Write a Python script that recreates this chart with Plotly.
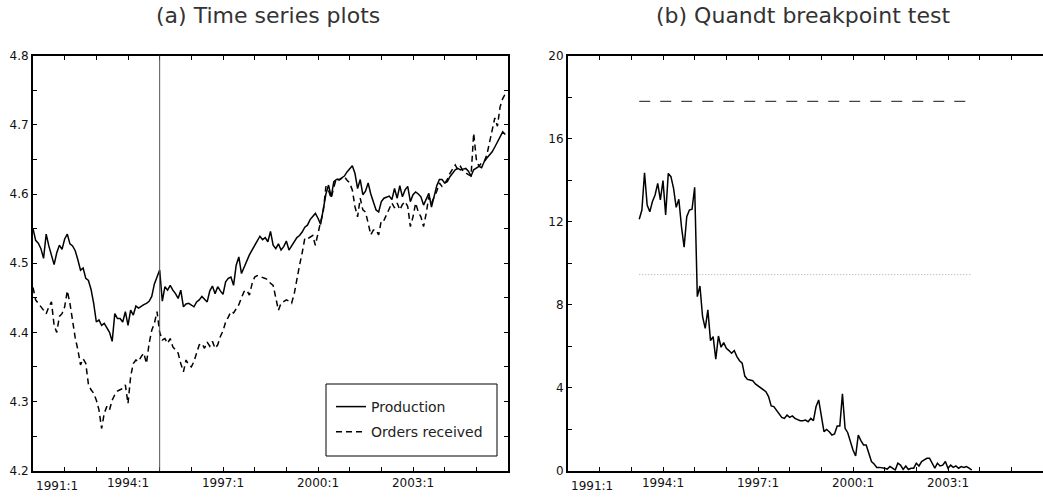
import numpy as np
import plotly.graph_objects as go

# ---------------- data (monthly, 1991:1 - 2005:12) ----------------
start_year = 1991
production = [
    4.550, 4.533, 4.529, 4.521, 4.507, 4.542, 4.525, 4.512, 4.498, 4.515, 4.526, 4.520,  # 1991
    4.535, 4.542, 4.528, 4.525, 4.518, 4.505, 4.490, 4.493, 4.478, 4.475, 4.462, 4.442,  # 1992
    4.415, 4.418, 4.410, 4.413, 4.406, 4.400, 4.387, 4.427, 4.420, 4.420, 4.415, 4.430,  # 1993
    4.410, 4.432, 4.425, 4.438, 4.435, 4.438, 4.440, 4.442, 4.445, 4.452, 4.470, 4.480,  # 1994
    4.490, 4.445, 4.466, 4.461, 4.468, 4.461, 4.456, 4.449, 4.461, 4.437, 4.441, 4.442,  # 1995
    4.440, 4.437, 4.444, 4.447, 4.452, 4.448, 4.444, 4.460, 4.467, 4.456, 4.466, 4.460,  # 1996
    4.455, 4.473, 4.478, 4.480, 4.468, 4.497, 4.509, 4.485, 4.495, 4.505, 4.512, 4.519,  # 1997
    4.526, 4.531, 4.539, 4.534, 4.537, 4.531, 4.546, 4.526, 4.521, 4.528, 4.519, 4.524,  # 1998
    4.532, 4.519, 4.525, 4.529, 4.537, 4.540, 4.545, 4.552, 4.555, 4.563, 4.568, 4.572,  # 1999
    4.565, 4.556, 4.578, 4.600, 4.613, 4.596, 4.618, 4.621, 4.621, 4.623, 4.626, 4.632,  # 2000
    4.636, 4.641, 4.630, 4.608, 4.621, 4.599, 4.604, 4.616, 4.600, 4.590, 4.577, 4.574,  # 2001
    4.589, 4.594, 4.596, 4.597, 4.592, 4.608, 4.594, 4.612, 4.596, 4.606, 4.611, 4.589,  # 2002
    4.599, 4.603, 4.600, 4.596, 4.584, 4.592, 4.601, 4.581, 4.599, 4.612, 4.621, 4.621,  # 2003
    4.616, 4.618, 4.625, 4.630, 4.635, 4.637, 4.635, 4.636, 4.637, 4.633, 4.626, 4.635,  # 2004
    4.638, 4.640, 4.638, 4.647, 4.652, 4.656, 4.661, 4.668, 4.676, 4.684, 4.690, 4.686,  # 2005
]
orders = [
    4.465, 4.447, 4.442, 4.437, 4.432, 4.427, 4.437, 4.444, 4.410, 4.400, 4.423, 4.427,  # 1991
    4.437, 4.460, 4.442, 4.418, 4.392, 4.375, 4.353, 4.362, 4.355, 4.325, 4.317, 4.312,  # 1992
    4.302, 4.288, 4.261, 4.283, 4.293, 4.288, 4.302, 4.310, 4.315, 4.317, 4.319, 4.324,  # 1993
    4.297, 4.336, 4.355, 4.360, 4.358, 4.365, 4.370, 4.355, 4.384, 4.403, 4.413, 4.430,  # 1994
    4.400, 4.389, 4.391, 4.384, 4.391, 4.379, 4.374, 4.370, 4.355, 4.343, 4.360, 4.353,  # 1995
    4.350, 4.358, 4.370, 4.382, 4.384, 4.377, 4.386, 4.380, 4.387, 4.377, 4.382, 4.394,  # 1996
    4.402, 4.415, 4.422, 4.430, 4.428, 4.435, 4.440, 4.450, 4.459, 4.461, 4.454, 4.470,  # 1997
    4.480, 4.482, 4.481, 4.480, 4.478, 4.476, 4.471, 4.468, 4.452, 4.432, 4.442, 4.445,  # 1998
    4.447, 4.445, 4.442, 4.456, 4.478, 4.497, 4.515, 4.536, 4.535, 4.537, 4.540, 4.526,  # 1999
    4.545, 4.560, 4.575, 4.611, 4.605, 4.594, 4.610, 4.623, 4.620, 4.622, 4.625, 4.620,  # 2000
    4.616, 4.606, 4.582, 4.567, 4.594, 4.577, 4.574, 4.558, 4.541, 4.548, 4.548, 4.541,  # 2001
    4.562, 4.562, 4.570, 4.577, 4.587, 4.580, 4.587, 4.577, 4.585, 4.589, 4.582, 4.553,  # 2002
    4.567, 4.587, 4.574, 4.567, 4.553, 4.572, 4.596, 4.587, 4.595, 4.604, 4.616, 4.611,  # 2003
    4.615, 4.621, 4.630, 4.636, 4.642, 4.635, 4.640, 4.633, 4.630, 4.628, 4.626, 4.688,  # 2004
    4.650, 4.640, 4.645, 4.647, 4.657, 4.675, 4.693, 4.710, 4.698, 4.726, 4.738, 4.745,  # 2005
]
# Quandt sup-Wald statistic, evaluated from 1993:4 (month index 27) to 2003:10
quandt_start_month = 27
quandt = [
    12.12, 12.56, 14.36, 12.80, 12.48, 12.97, 13.29, 13.85, 13.05, 13.98,
    12.32, 14.33, 14.17, 13.61, 12.69, 13.08, 11.76, 10.77, 12.24, 12.56,
    12.60, 13.66, 8.39, 8.90, 7.42, 6.86, 7.75, 6.27, 6.46, 5.37,
    6.49, 5.95, 6.17, 5.90, 5.79, 5.66, 5.79, 5.50, 5.30, 5.18,
    4.56, 4.40, 4.37, 4.34, 4.18, 4.08, 4.02, 3.89, 3.81, 3.57,
    3.12, 3.09, 2.93, 2.73, 2.57, 2.52, 2.68, 2.57, 2.64, 2.52,
    2.48, 2.41, 2.41, 2.44, 2.36, 2.52, 2.41, 3.09, 3.41, 2.60,
    1.88, 1.99, 1.88, 1.72, 1.77, 2.15, 2.15, 3.70, 2.04, 1.83,
    1.40, 1.00, 0.71, 1.72, 1.45, 1.24, 1.24, 0.84, 0.44, 0.32,
    0.16, 0.16, 0.15, 0.12, 0.08, 0.20, 0.12, 0.03, 0.36, 0.27,
    0.06, 0.23, 0.06, 0.12, 0.12, 0.36, 0.23, 0.44, 0.52, 0.60,
    0.60, 0.36, 0.12, 0.36, 0.23, 0.27, 0.44, 0.12, 0.27, 0.16,
    0.23, 0.12, 0.20, 0.16, 0.20, 0.12, 0.03,
]
crit_upper = 17.8   # dashed critical value
crit_lower = 9.45   # dotted critical value
break_date = 1995.0

tick_years = [1991, 1994, 1997, 2000, 2003]
tick_labels = ["1991:1", "1994:1", "1997:1", "2000:1", "2003:1"]
x_range = [1991, 2006]
y1_range = [4.2, 4.8]
y1_labels = ["4.2", "4.3", "4.4", "4.5", "4.6", "4.7", "4.8"]
y2_range = [0, 20]
y2_labels = ["0", "4", "8", "12", "16", "20"]
titles = ["(a) Time series plots", "(b) Quandt breakpoint test"]
series_names = ["Production", "Orders received"]

# ---------------- derived ----------------
t = start_year + np.arange(len(production)) / 12.0
tq = start_year + (quandt_start_month + np.arange(len(quandt))) / 12.0

W, H = 1043, 497
FONT = "DejaVu Sans"
INK = "#111111"

fig = go.Figure()
fig.add_trace(go.Scatter(x=t, y=production, mode="lines", name=series_names[0],
                         line=dict(color="black", width=1.5), xaxis="x", yaxis="y",
                         legendgroup="a"))
fig.add_trace(go.Scatter(x=t, y=orders, mode="lines", name=series_names[1],
                         line=dict(color="black", width=1.5, dash="6px,4px"), xaxis="x", yaxis="y",
                         legendgroup="b"))
fig.add_trace(go.Scatter(x=[tq[0], tq[-1]], y=[crit_upper, crit_upper], mode="lines",
                         line=dict(color="#444444", width=1.3, dash="11px,10px"),
                         xaxis="x2", yaxis="y2", showlegend=False))
fig.add_trace(go.Scatter(x=[tq[0], tq[-1]], y=[crit_lower, crit_lower], mode="lines",
                         line=dict(color="#aaaaaa", width=1, dash="1px,2px"),
                         xaxis="x2", yaxis="y2", showlegend=False))
fig.add_trace(go.Scatter(x=tq, y=quandt, mode="lines", line=dict(color="black", width=1.5),
                         xaxis="x2", yaxis="y2", showlegend=False))

# ticks: every year on x, with labels only at tick_years (first label drawn left-anchored)
all_years = list(range(x_range[0], x_range[1] + 1))
xt_text = []
for yv in all_years:
    if yv in tick_years and yv != tick_years[0]:
        xt_text.append(tick_labels[tick_years.index(yv)])
    else:
        xt_text.append("")

y1_vals = [round(4.2 + 0.05 * i, 2) for i in range(13)]
y1_text = [y1_labels[i // 2] if i % 2 == 0 else "" for i in range(13)]
y2_vals = list(range(0, 21, 2))
y2_text = [y2_labels[i // 2] if i % 2 == 0 else "" for i in range(11)]

x1_dom = [33 / W, 508 / W]
x2_dom = [568 / W, 1.0]
y_dom = [(H - 470.7) / H, (H - 55.7) / H]

TICKFONT = dict(family=FONT, size=12, color=INK)
common_x = dict(range=x_range, tickmode="array", tickvals=all_years, ticktext=xt_text,
                ticks="inside", ticklen=4, tickwidth=1, tickcolor="black",
                showline=True, linewidth=2, linecolor="black",
                showgrid=False, zeroline=False, automargin=False,
                tickfont=TICKFONT)
common_y = dict(tickmode="array", ticks="inside", ticklen=4, tickwidth=1, tickcolor="black",
                showline=True, linewidth=2, linecolor="black",
                showgrid=False, zeroline=False, automargin=False,
                tickfont=TICKFONT)

fig.update_layout(
    width=W, height=H,
    margin=dict(l=0, r=0, t=0, b=0, autoexpand=False),
    paper_bgcolor="white", plot_bgcolor="white",
    font=dict(family=FONT, color=INK),
    xaxis=dict(domain=x1_dom, anchor="y", mirror="ticks", **common_x),
    yaxis=dict(domain=y_dom, anchor="x", range=y1_range, tickvals=y1_vals, ticktext=y1_text,
               mirror="ticks", **common_y),
    xaxis2=dict(domain=x2_dom, anchor="y2", mirror="ticks", **common_x),
    yaxis2=dict(domain=y_dom, anchor="x2", range=y2_range, tickvals=y2_vals, ticktext=y2_text,
                mirror=False, **common_y),
    legend=dict(x=331 / W, y=1 - 391 / H, xanchor="left", yanchor="top",
                borderwidth=0, bgcolor="rgba(0,0,0,0)",
                font=dict(family=FONT, size=14, color="#222222"),
                tracegroupgap=4, traceorder="grouped", itemwidth=30),
    showlegend=True,
)

# legend frame
fig.add_shape(type="rect", xref="paper", yref="paper",
              x0=326 / W, x1=497 / W, y0=1 - 456 / H, y1=1 - 384 / H,
              line=dict(color="black", width=1), fillcolor="rgba(0,0,0,0)", layer="above")

# break date vertical line
fig.add_shape(type="line", xref="x", yref="y domain", x0=break_date, x1=break_date, y0=0, y1=1,
              line=dict(color="#555555", width=1))

# first x tick label, left-anchored at the axis start
for xa in ["x", "x2"]:
    fig.add_annotation(x=tick_years[0], y=0, xref=xa, yref=("y domain" if xa == "x" else "y2 domain"),
                       text=tick_labels[0], showarrow=False, xanchor="left", yanchor="top",
                       yshift=-6, xshift=1, font=TICKFONT)

# panel titles
for dom, ttl in zip([x1_dom, x2_dom], titles):
    fig.add_annotation(x=(dom[0] + dom[1]) / 2 - 3 / W, y=1 - 16 / H, xref="paper", yref="paper",
                       text=ttl, showarrow=False, xanchor="center", yanchor="middle",
                       font=dict(family=FONT, size=22, color="#333333"))

fig.write_html("out.html", config={"displayModeBar": False},
               post_script="document.body.style.margin='0px';")
